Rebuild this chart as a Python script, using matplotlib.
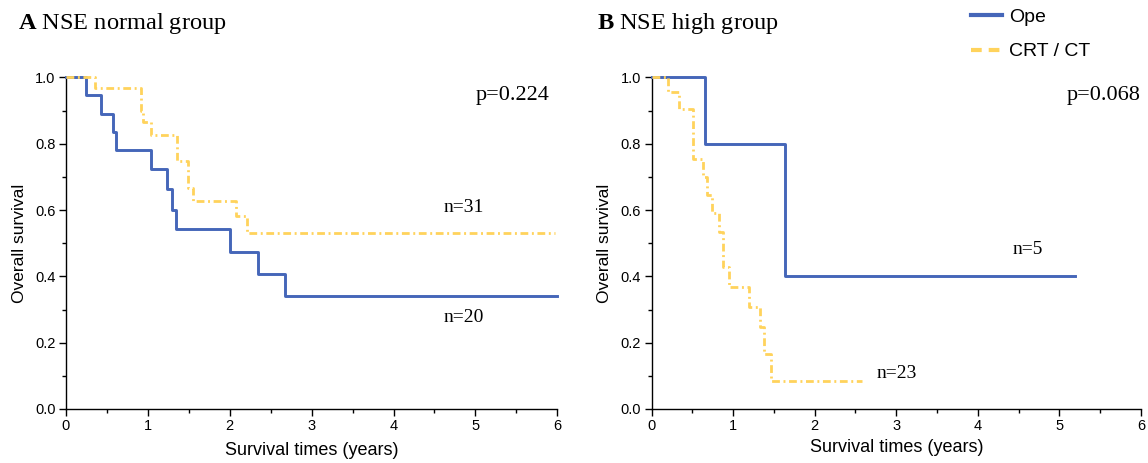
import matplotlib
matplotlib.use("Agg")
import matplotlib.pyplot as plt
from matplotlib.lines import Line2D
from matplotlib.ticker import MultipleLocator

plt.rcParams['font.family'] = ['Liberation Sans', 'DejaVu Sans']
plt.rcParams['mathtext.fontset'] = 'custom'
plt.rcParams['mathtext.rm'] = 'Liberation Serif'
plt.rcParams['mathtext.bf'] = 'Liberation Serif:bold'

# --- Data ---
# Panel A: NSE normal group
a_ope_t = [0, 0.245, 0.43, 0.58, 0.61, 1.04, 1.23, 1.30, 1.34, 2.0, 2.35, 2.68, 6.0]
a_ope_s = [1.0, 0.946, 0.891, 0.835, 0.780, 0.724, 0.664, 0.601, 0.542, 0.475, 0.408, 0.341, 0.341]
a_crt_t = [0, 0.35, 0.91, 0.94, 1.04, 1.35, 1.49, 1.55, 2.08, 2.21, 5.97]
a_crt_s = [1.0, 0.967, 0.90, 0.865, 0.828, 0.747, 0.668, 0.628, 0.581, 0.532, 0.532]

# Panel B: NSE high group
b_ope_t = [0, 0.66, 1.64, 5.19]
b_ope_s = [1.0, 0.8, 0.4, 0.4]
b_crt_t = [0, 0.20, 0.34, 0.51, 0.63, 0.675, 0.736, 0.826, 0.88, 0.95, 1.20, 1.33, 1.38, 1.47, 2.58]
b_crt_s = [1.0, 0.955, 0.904, 0.755, 0.70, 0.646, 0.591, 0.535, 0.429, 0.368, 0.308, 0.247, 0.165, 0.083, 0.083]

titles = ["A", "B"]
subtitles = ["NSE normal group", "NSE high group"]
p_values = ["p=0.224", "p=0.068"]
n_ope = ["n=20", "n=5"]
n_crt = ["n=31", "n=23"]
legend_labels = ["Ope", "CRT / CT"]

# --- Style ---
blue = '#4566b9'
yellow = '#ffd35c'
crt_dash = (2.8, 1.3, 0.7, 1.3)
serif = 'Liberation Serif'

fig = plt.figure(figsize=(11.48, 4.63), dpi=100)
W, H = 1148, 463
axA = fig.add_axes([66 / W, 1 - 409 / H, (557.3 - 66) / W, (409 - 77.5) / H])
axB = fig.add_axes([651.5 / W, 1 - 409 / H, (1141 - 651.5) / W, (409 - 77.5) / H])

panels = [
    (axA, a_ope_t, a_ope_s, a_crt_t, a_crt_s, (4.61, 0.263), (4.61, 0.595), 5.90, 6),
    (axB, b_ope_t, b_ope_s, b_crt_t, b_crt_s, (4.425, 0.468), (2.76, 0.094), 5.99, 4),
]

for i, (ax, ot, os_, ct, cs, n_o_pos, n_c_pos, p_x, xpad) in enumerate(panels):
    ax.step(ot, os_, where='post', color=blue, lw=2.1, clip_on=False, zorder=3)
    ln, = ax.step(ct, cs, where='post', color=yellow, lw=2.0, clip_on=False, zorder=4)
    ln.set_dashes(crt_dash)

    ax.set_xlim(0, 6)
    ax.set_ylim(0, 1)
    ax.xaxis.set_major_locator(MultipleLocator(1))
    ax.xaxis.set_minor_locator(MultipleLocator(0.5))
    ax.yaxis.set_major_locator(MultipleLocator(0.2))
    ax.yaxis.set_minor_locator(MultipleLocator(0.1))
    ax.yaxis.set_major_formatter(lambda v, pos: f"{v:.1f}")
    ax.tick_params(which='major', length=5, width=1, labelsize=10.5, pad=2.5)
    ax.tick_params(which='minor', length=2.7, width=1)
    for s in ['top', 'right']:
        ax.spines[s].set_visible(False)
    for s in ['left', 'bottom']:
        ax.spines[s].set_linewidth(1)

    ax.set_ylabel("Overall survival", fontsize=12.5, labelpad=6)
    ax.set_xlabel("Survival times (years)", fontsize=13, labelpad=xpad)

    ax.text(p_x, 0.932, p_values[i], family=serif, fontsize=16, ha='right', va='baseline')
    ax.text(n_o_pos[0], n_o_pos[1], n_ope[i], family=serif, fontsize=14, ha='left', va='baseline')
    ax.text(n_c_pos[0], n_c_pos[1], n_crt[i], family=serif, fontsize=14, ha='left', va='baseline')

fig.text(18 / W, 1 - 29.3 / H, r"$\mathbf{%s}$ %s" % (titles[0], subtitles[0]),
         family=serif, fontsize=17.6, va='baseline')
fig.text(597 / W, 1 - 29.3 / H, r"$\mathbf{%s}$ %s" % (titles[1], subtitles[1]),
         family=serif, fontsize=17.6, va='baseline')

handles = [
    Line2D([], [], color=blue, lw=3),
    Line2D([], [], color=yellow, lw=3, dashes=(2.57, 1.68)),
]
fig.legend(handles, legend_labels, loc='upper left', bbox_to_anchor=(971 / W, 1 - 8 / H),
           frameon=False, fontsize=14, handlelength=1.6, handletextpad=0.35,
           labelspacing=0.88, borderpad=0, borderaxespad=0)

fig.savefig("out.png", dpi=100)
